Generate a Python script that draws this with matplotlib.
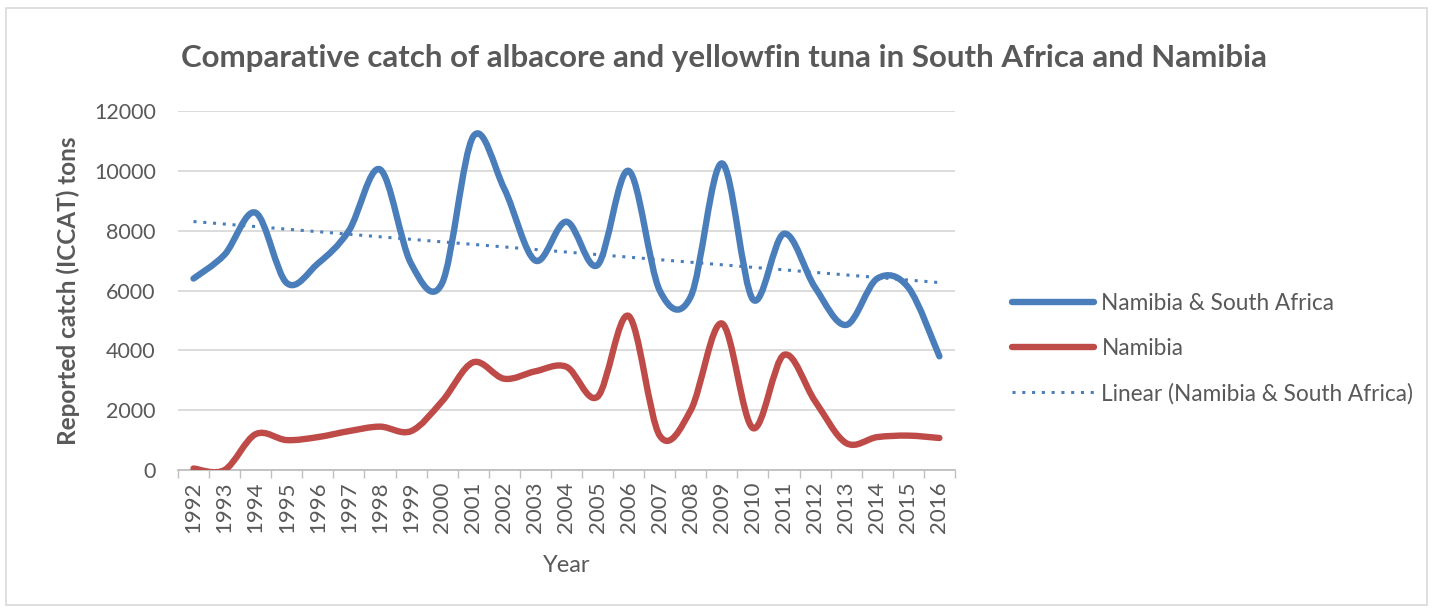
#!/usr/bin/env python3
"""Comparative catch of albacore and yellowfin tuna, Excel-style smoothed lines."""

import matplotlib

matplotlib.use("Agg")
import matplotlib.pyplot as plt
import numpy as np
from matplotlib.lines import Line2D
from matplotlib.patches import PathPatch, Rectangle
from matplotlib.path import Path

years = list(range(1992, 2017))
nam_sa = [6400, 7200, 8600, 6250, 6900, 8000, 10050, 6900, 6250, 11150,
          9400, 7000, 8300, 6850, 10000, 6000, 5800, 10250, 5700, 7900,
          6100, 4850, 6400, 6100, 3800]
namibia = [50, 0, 1200, 1000, 1100, 1300, 1450, 1300, 2300, 3600,
           3050, 3300, 3450, 2450, 5150, 1150, 2000, 4900, 1400, 3850,
           2300, 900, 1100, 1150, 1070]

series_labels = ["Namibia & South Africa", "Namibia",
                 "Linear (Namibia & South Africa)"]
title = "Comparative catch of albacore and yellowfin tuna in South Africa and Namibia"

BLUE = "#4a7ebb"
RED = "#be4b48"
TEXT = "#595959"
GRID = "#d9d9d9"

plt.rcParams["font.family"] = ["Lato", "DejaVu Sans"]


def smooth_path(x, y):
    """Bezier path through the points, like Excel's smoothed line."""
    x = np.asarray(x, float)
    y = np.asarray(y, float)
    pts = np.column_stack([x, y])
    verts = [pts[0]]
    codes = [Path.MOVETO]
    n = len(pts)
    for i in range(n - 1):
        p0 = pts[i - 1] if i > 0 else pts[i]
        p1 = pts[i]
        p2 = pts[i + 1]
        p3 = pts[i + 2] if i + 2 < n else pts[i + 1]
        c1 = p1 + (p2 - p0) / 6.0
        c2 = p2 - (p3 - p1) / 6.0
        verts += [c1, c2, p2]
        codes += [Path.CURVE4] * 3
    return Path(verts, codes)


fig = plt.figure(figsize=(14.33, 6.12), dpi=100)
fig.patches.append(Rectangle((0.004, 0.012), 0.992, 0.975, transform=fig.transFigure,
                             fill=False, edgecolor="#d9d9d9", linewidth=1.2))

ax = fig.add_axes([0.1242, 0.232, 0.5422, 0.5866])

for vals, color in [(nam_sa, BLUE), (namibia, RED)]:
    patch = PathPatch(smooth_path(years, vals), facecolor="none", edgecolor=color,
                      linewidth=4.6, capstyle="round", joinstyle="round", zorder=3)
    ax.add_patch(patch)

slope, intercept = np.polyfit(years, nam_sa, 1)
trend = [slope * yr + intercept for yr in years]
ax.plot(years, trend, color=BLUE, linewidth=2.2, linestyle=(0, (1, 2.2)), zorder=4)

ax.set_xlim(1991.5, 2016.5)
ax.set_ylim(0, 12000)
ax.set_yticks(range(0, 12001, 2000))
ax.set_xticks(years)
ax.set_xticklabels([str(yr) for yr in years], rotation=90, fontsize=16, color=TEXT)
ax.set_xticks(np.arange(1991.5, 2017, 1), minor=True)
ax.tick_params(axis="x", which="major", length=0, pad=8)
ax.tick_params(axis="x", which="minor", length=6, color="#bfbfbf", width=1)
ax.tick_params(axis="y", length=0, labelsize=15.5, labelcolor=TEXT, pad=16)

ax.grid(axis="y", color=GRID, linewidth=1.3)
ax.set_axisbelow(True)
for side in ["top", "right", "left"]:
    ax.spines[side].set_visible(False)
ax.spines["bottom"].set_color("#bfbfbf")
ax.spines["bottom"].set_linewidth(1.3)

ax.set_xlabel("Year", fontsize=17, color=TEXT, labelpad=16)
ax.set_ylabel("Reported catch (ICCAT) tons", fontsize=17.5, color=TEXT,
              fontweight="bold", labelpad=10)

fig.text(0.505, 0.905, title, ha="center", va="center", fontsize=22.5,
         fontweight="bold", color=TEXT)

handles = [
    Line2D([], [], color=BLUE, linewidth=4.6, solid_capstyle="round"),
    Line2D([], [], color=RED, linewidth=4.6, solid_capstyle="round"),
    Line2D([], [], color=BLUE, linewidth=2.2, linestyle=(0, (1, 2.2))),
]
leg = fig.legend(handles, series_labels, loc="center left",
                 bbox_to_anchor=(0.692, 0.43), frameon=False, fontsize=16.3,
                 handlelength=3.6, handletextpad=0.35, labelspacing=1.05)
for txt in leg.get_texts():
    txt.set_color(TEXT)

fig.savefig("out.png", dpi=100)
